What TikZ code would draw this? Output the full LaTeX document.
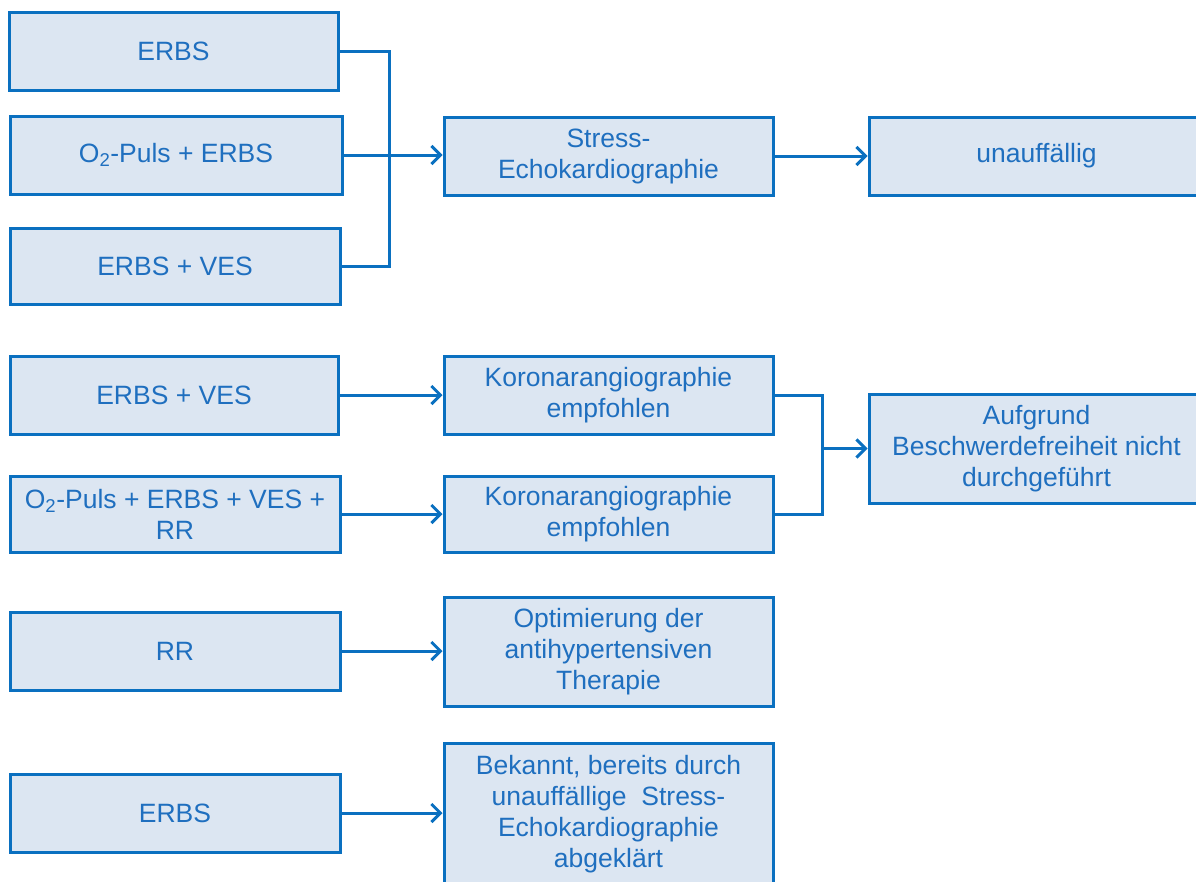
\documentclass[tikz,border=0pt]{standalone}
\usepackage{fontspec}
\setmainfont{Liberation Sans}
\usetikzlibrary{arrows.meta}
\definecolor{boxfill}{HTML}{DCE6F2}
\definecolor{boxline}{HTML}{0A70C0}
\definecolor{boxtext}{HTML}{1F6FBF}
\begin{document}
\begin{tikzpicture}[x=1pt,y=-1pt,
  box/.style={draw=boxline, fill=boxfill, line width=3pt, inner sep=0pt,
    align=center, text=boxtext, font=\fontsize{26.5}{31}\selectfont},
  conn/.style={draw=boxline, line width=3pt},
  arr/.style={conn, -{Straight Barb[length=9pt,width=18pt,line width=3pt]}}]
\useasboundingbox (0,0) rectangle (1196,881);
% left column
\node[box, minimum width=329, minimum height=78] (l1) at (173.5,51) {ERBS};
\node[box, minimum width=332, minimum height=78] (l2) at (176,155) {O\textsubscript{2}-Puls + ERBS};
\node[box, minimum width=330, minimum height=76] (l3) at (175,266) {ERBS + VES};
\node[box, minimum width=328, minimum height=78] (l4) at (174,395) {ERBS + VES};
\node[box, minimum width=330, minimum height=76] (l5) at (175,514) {O\textsubscript{2}-Puls + ERBS + VES +\\RR};
\node[box, minimum width=330, minimum height=78] (l6) at (175,651) {RR};
\node[box, minimum width=330, minimum height=78] (l7) at (175,813) {ERBS};
% middle column
\node[box, minimum width=329, minimum height=78] (m1) at (608.5,156) {Stress-\\Echokardiographie};
\node[box, minimum width=329, minimum height=78] (m2) at (608.5,395) {Koronarangiographie\\empfohlen};
\node[box, minimum width=329, minimum height=76] (m3) at (608.5,514) {Koronarangiographie\\empfohlen};
\node[box, minimum width=329, minimum height=109] (m4) at (608.5,651.5) {Optimierung der\\antihypertensiven\\Therapie};
\node[box, minimum width=329, minimum height=142] (m5) at (608.5,814) {Bekannt, bereits durch\\unauffällige\ \ Stress-\\Echokardiographie\\abgeklärt};
% right column
\node[box, minimum width=335, minimum height=78] (r1) at (1036.5,156) {unauffällig};
\node[box, minimum width=335, minimum height=109] (r2) at (1036.5,448.5) {Aufgrund\\Beschwerdefreiheit nicht\\durchgeführt};
% junctions
\coordinate (jA) at (389,155);
\coordinate (jB) at (822,448.5);
\draw[conn] (l1.east) -| (jA) |- (l3.east);
\draw[arr] (l2.east) -- (l2.east -| m1.west);
\draw[arr] (m1.east) -- (r1.west);
\draw[arr] (l4.east) -- (m2.west);
\draw[arr] (l5.east) -- (m3.west);
\draw[conn] (m2.east) -| (jB) |- (m3.east);
\draw[arr] (jB) -- (r2.west);
\draw[arr] (l6.east) -- (l6.east -| m4.west);
\draw[arr] (l7.east) -- (l7.east -| m5.west);
\end{tikzpicture}
\end{document}
